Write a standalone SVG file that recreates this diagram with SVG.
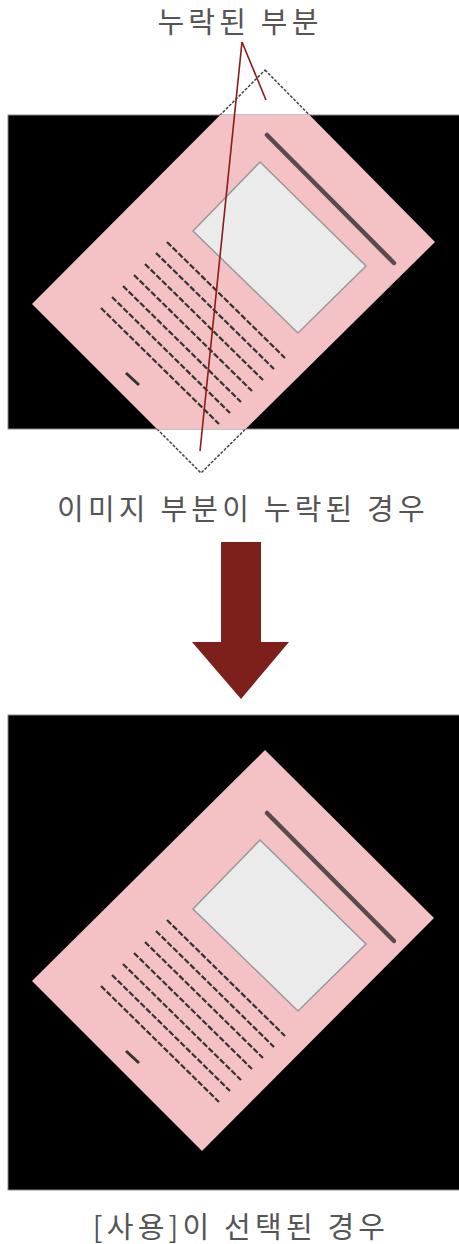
<svg xmlns="http://www.w3.org/2000/svg" xmlns:xlink="http://www.w3.org/1999/xlink" width="459" height="1244" viewBox="0 0 459 1244">
<style>
.lbl{font-family:"Noto Sans CJK KR","Noto Sans",sans-serif;font-size:29px;fill:#555;letter-spacing:4.2px;text-anchor:middle}
.frame{fill:#000;stroke:#888;stroke-width:1}
.pink{fill:#f4c2c5}
.pic{fill:#ebebeb;stroke:#999;stroke-width:1.5}
.title{stroke:#5a4a4d;stroke-width:4.5;stroke-linecap:round}
.txt{stroke:#333;stroke-width:2.2;stroke-dasharray:6 2;fill:none}
.mark{stroke:#333;stroke-width:3}
.lost{fill:#fff;stroke:#444;stroke-width:1.5;stroke-dasharray:3 1.5}
.leader{stroke:#8b1a1a;stroke-width:1.6;fill:none}
</style>
<defs>
<clipPath id="clipTop"><rect x="8" y="115" width="451" height="314"/></clipPath>
<g id="pageContent">
<polygon class="pic" points="260,162 366,266 298,333 193,231"/>
<line class="title" x1="267" y1="135" x2="394" y2="263"/>
<path class="txt" d="M167,242 L285,358 M156,253 L274,369 M145,264 L263,380 M134,275 L252,391 M123,286 L241,402 M112,297 L230,413 M101,308 L219,424"/>
<line class="mark" x1="126" y1="373" x2="139" y2="385"/>
</g>
</defs>
<g id="top-diagram">
<polygon class="lost" points="265,70 435,242 201,473 32,304"/>
<rect class="frame" x="8" y="115" width="452" height="314"/>
<polygon class="pink" clip-path="url(#clipTop)" points="265,70 435,242 201,473 32,304"/>
<use xlink:href="#pageContent"/>
</g>
<g id="label-missing"><text class="lbl" x="240" y="33">누락된 부분</text></g>
<g id="caption-top"><text class="lbl" x="243" y="520">이미지 부분이 누락된 경우</text></g>
<g id="arrow"><polygon fill="#7d201c" points="221,542 261,542 261,642 289,642 241,699 192,642 221,642"/></g>
<g id="bottom-diagram">
<rect class="frame" x="8" y="715" width="452" height="475"/>
<g transform="translate(0,678)">
<polygon class="pink" points="265,72 434,240 202,473 32,303"/>
<use xlink:href="#pageContent"/>
</g>
</g>
<g id="caption-bottom"><text class="lbl" x="241" y="1238">[사용]이 선택된 경우</text></g>
<g id="connectors">
<line class="leader" x1="242" y1="42" x2="266" y2="100"/>
<line class="leader" x1="242" y1="42" x2="200" y2="451"/>
</g>
</svg>
